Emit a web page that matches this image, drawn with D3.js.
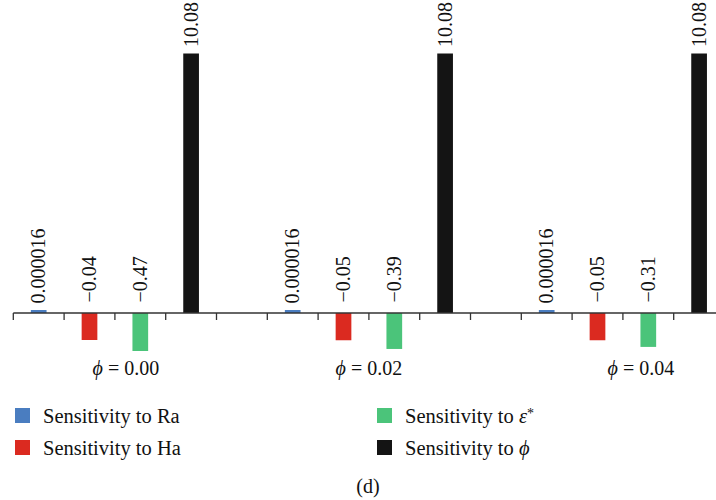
<!doctype html>
<html>
  <head>
    <script src="https://cdn.jsdelivr.net/npm/d3@7/dist/d3.min.js"></script>
    <style>
      body { margin: 0; background: #fff; }
      text { font-family: "Liberation Serif", "Times New Roman", Times, "DejaVu Serif", serif; }
      .axis line { stroke: #333; }
    </style>
  </head>
  <body>
    <svg width="716" height="500"></svg>
    <script>
      // values as printed above the bars
      var groups = ["0.00", "0.02", "0.04"];
      var seriesNames = ["Ra", "Ha", "eps", "phi"];
      var sensRa  = [0.000016, 0.000016, 0.000016];
      var sensHa  = [-0.04, -0.05, -0.05];
      var sensEps = [-0.47, -0.39, -0.31];
      var sensPhi = [10.08, 10.08, 10.08];
      var valueLabels = {
        Ra: ["0.000016", "0.000016", "0.000016"],
        Ha: ["\u22120.04", "\u22120.05", "\u22120.05"],
        eps: ["\u22120.47", "\u22120.39", "\u22120.31"],
        phi: ["10.08", "10.08", "10.08"]
      };

      var colors = d3.scaleOrdinal()
        .domain(seriesNames)
        .range(["#4a7dc0", "#db2a20", "#4bc47a", "#141414"]);

      var bySeries = {Ra: sensRa, Ha: sensHa, eps: sensEps, phi: sensPhi};
      var bars = [];
      groups.forEach((g, gi) => {
        seriesNames.forEach(s => {
          bars.push({group: g, series: s, value: bySeries[s][gi], label: valueLabels[s][gi]});
        });
      });

      var svg = d3.select("svg");
      var slot = 50.8;

      // each group takes 5 slots: 4 bars and one empty slot
      var x0 = d3.scaleBand()
        .domain(groups)
        .range([13.3, 13.3 + slot * 15]);
      var x1 = d3.scaleBand()
        .domain(seriesNames.concat(["gap"]))
        .range([0, x0.bandwidth()]);

      // the original bars are not drawn to a single linear scale,
      // so a piecewise linear scale is used
      var y = d3.scaleLinear()
        .domain([-0.47, -0.04, 0, 0.000016, 10.08])
        .range([351, 340, 313, 310, 53.5]);

      var barW = 15.7;

      svg.selectAll("rect.bar")
        .data(bars)
        .enter()
        .append("rect")
          .attr("class", "bar")
          .attr("x", d => x0(d.group) + x1(d.series) + x1.bandwidth() / 2 - barW / 2)
          .attr("y", d => Math.min(y(d.value), y(0)))
          .attr("width", barW)
          .attr("height", d => Math.abs(y(d.value) - y(0)))
          .style("fill", d => colors(d.series));

      // axis line with ticks at every slot boundary
      var tickXs = [];
      groups.forEach(g => {
        x1.domain().forEach(s => tickXs.push(x0(g) + x1(s)));
      });
      var axis = svg.append("g").attr("class", "axis");
      axis.append("line")
        .attr("x1", x0.range()[0]).attr("x2", 716)
        .attr("y1", y(0)).attr("y2", y(0))
        .style("stroke-width", 1.3);
      axis.selectAll("line.tick")
        .data(tickXs)
        .enter()
        .append("line")
          .attr("class", "tick")
          .attr("x1", d => d).attr("x2", d => d)
          .attr("y1", y(0)).attr("y2", y(0) + 7)
          .style("stroke-width", 1.3);

      // value labels, rotated
      svg.selectAll("text.value")
        .data(bars)
        .enter()
        .append("text")
          .attr("class", "value")
          .attr("transform", d => {
            var cx = x0(d.group) + x1(d.series) + x1.bandwidth() / 2 + 6.5;
            var ty = d.value > 0 ? y(d.value) - 6.5 : y(0) - 10.5;
            return `translate(${cx},${ty}) rotate(-90)`;
          })
          .style("font-size", "20px")
          .style("fill", "#111")
          .text(d => d.label);

      // group labels
      var groupNudge = [11, 0, 18];
      var gl = svg.selectAll("text.group")
        .data(groups)
        .enter()
        .append("text")
          .attr("class", "group")
          .attr("x", (d, i) => x0(d) + x1("phi") / 2 + x1.bandwidth() / 2 + groupNudge[i])
          .attr("y", 375)
          .style("text-anchor", "middle")
          .style("font-size", "20px")
          .style("fill", "#111");
      gl.append("tspan").style("font-style", "italic").text("\u03d5");
      gl.append("tspan").text(d => " = " + d);

      // legend
      var legendItems = [
        {key: "Ra", x: 15, y: 408},
        {key: "Ha", x: 15, y: 440},
        {key: "eps", x: 377, y: 408},
        {key: "phi", x: 377, y: 440}
      ];
      var leg = svg.selectAll("g.legend")
        .data(legendItems)
        .enter()
        .append("g")
          .attr("class", "legend")
          .attr("transform", d => `translate(${d.x},${d.y})`);
      leg.append("rect")
        .attr("width", 15).attr("height", 15)
        .style("fill", d => colors(d.key));
      var lt = leg.append("text")
        .attr("x", 28).attr("y", 15)
        .style("font-size", "20.5px")
        .style("fill", "#111");
      lt.append("tspan").text("Sensitivity to ");
      lt.filter(d => d.key === "Ra").append("tspan").text("Ra");
      lt.filter(d => d.key === "Ha").append("tspan").text("Ha");
      lt.filter(d => d.key === "eps").append("tspan").style("font-style", "italic").text("\u03b5");
      lt.filter(d => d.key === "eps").append("tspan")
        .attr("dy", -5).style("font-size", "14px").text("*");
      lt.filter(d => d.key === "phi").append("tspan").style("font-style", "italic").text("\u03d5");

      svg.append("text")
        .attr("x", 368).attr("y", 493)
        .style("text-anchor", "middle")
        .style("font-size", "20px")
        .style("fill", "#111")
        .text("(d)");
    </script>
  </body>
</html>
